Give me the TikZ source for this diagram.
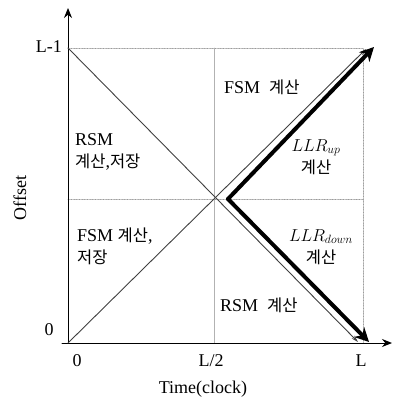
\documentclass[tikz,border=0pt]{standalone}
\usepackage{fontspec}
\setmainfont{Liberation Serif}
\newfontfamily\krfont{Noto Sans CJK KR}
\usetikzlibrary{arrows.meta}
\newcommand{\ko}[1]{{\krfont\fontsize{16.5}{21}\selectfont #1}}

\begin{document}
\begin{tikzpicture}[x=1pt,y=-1pt,>={Stealth[length=10pt,width=8pt]},
  font=\fontsize{18}{22}\selectfont,line cap=round,
  guide/.style={gray!80,densely dotted,line width=0.6pt},
  thinray/.style={-{Stealth[length=7pt,width=4pt]},black!75,line width=0.9pt},
  boldray/.style={-{Stealth[length=14pt,width=14pt]},line width=4pt},
  lbl/.style={inner sep=0pt,align=center}]
\useasboundingbox (0,0) rectangle (396,401);
% frame points
\coordinate (org) at (68,343);
\coordinate (xs) at (62,343);
\coordinate (xe) at (392,343);
\coordinate (ye) at (68,8);
\coordinate (ytop) at (68,48);
\coordinate (ymid) at (68,199);
\coordinate (hx) at (214,343);
\coordinate (hy) at (214,48);
\coordinate (lx) at (363,343);
\coordinate (ly) at (363,48);
\coordinate (rm) at (363,199);
\coordinate (fsmend) at (366,49);
\coordinate (rsmend) at (358,342);
\coordinate (vtx) at (228,199);
\coordinate (upend) at (374,47);
\coordinate (dnend) at (369,342);
% guides
\draw[guide] (ytop) -- (ly) -- (lx);
\draw[guide] (ymid) -- (rm);
\draw[gray!60,line width=0.5pt] (hy) -- (hx);
% axes
\draw[->,line width=1pt] (xs) -- (xe);
\draw[->,line width=1pt] (org) -- (ye);
% thin diagonals
\draw[thinray] (org) -- (fsmend);
\draw[thinray] (ytop) -- (rsmend);
% bold arrows
\draw[boldray] (vtx) -- (upend);
\draw[boldray] (vtx) -- (dnend);
% tick labels
\node[anchor=east,inner sep=0pt] (lm1) at (62,47) {L-1};
\node[inner sep=0pt] (zy) at (49,330) {0};
\node[inner sep=0pt] (zx) at (77,361) {0};
\node[inner sep=0pt] (lh) at (211,361) {L/2};
\node[inner sep=0pt] (lf) at (361,361) {L};
\node[inner sep=0pt] (xlab) at (203,389) {Time(clock)};
\node[inner sep=0pt,rotate=90] (ylab) at (20,198) {Offset};
% region labels
\node[lbl,anchor=west,align=left] (rsmsave) at (75,152) {RSM\\\ko{계산},\ko{저장}};
\node[lbl,anchor=west] (fsmcalc) at (224,87) {FSM\ \ \ko{계산}};
\node[lbl] (llrup) at (316,157) {$LLR_{up}$\\\ko{계산}};
\node[lbl,anchor=west,align=left] (fsmsave) at (77,246) {FSM \ko{계산},\\\ko{저장}};
\node[lbl] (llrdn) at (321,247) {$LLR_{down}$\\\ko{계산}};
\node[lbl,anchor=west] (rsmcalc) at (220,305) {RSM\ \ \ko{계산}};
\end{tikzpicture}
\end{document}
